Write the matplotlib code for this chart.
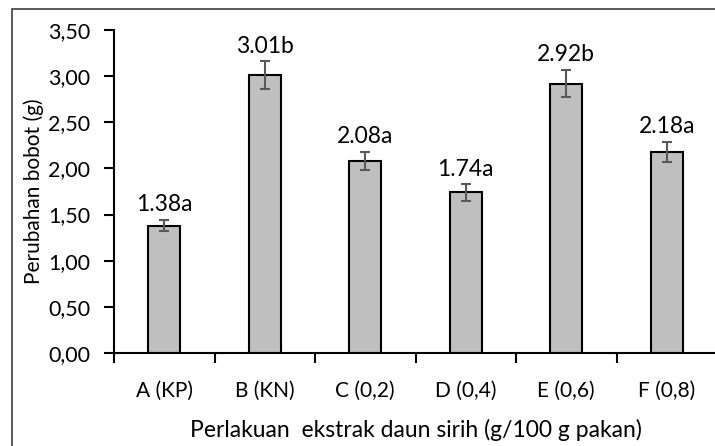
import matplotlib.pyplot as plt
from matplotlib.patches import Rectangle

# Perubahan bobot per perlakuan
perlakuan = ['A (KP)', 'B (KN)', 'C (0,2)', 'D (0,4)', 'E (0,6)', 'F (0,8)']
bobot = [1.38, 3.01, 2.08, 1.74, 2.92, 2.18]
galat = [0.06, 0.15, 0.10, 0.09, 0.15, 0.11]
notasi = ['a', 'b', 'a', 'a', 'b', 'a']

plt.rcParams['font.family'] = ['Lato', 'DejaVu Sans']

fig = plt.figure(figsize=(7.15, 4.46), dpi=100)
ax = fig.add_axes([114 / 715, 1 - 353 / 446, 603 / 715, 323 / 446])

x = range(len(perlakuan))
ax.bar(x, bobot, width=0.32, color='#bfbfbf', edgecolor='black', linewidth=1.5, zorder=2)
ax.errorbar(x, bobot, yerr=galat, fmt='none', ecolor='#595959', elinewidth=1.5,
            capsize=3.6, capthick=1.5, zorder=3)

for i, (v, e, n) in enumerate(zip(bobot, galat, notasi)):
    ax.text(i, v + e + 0.05, f'{v:.2f}{n}', ha='center', va='bottom', fontsize=16.5)

ax.set_xlim(-0.5, len(perlakuan) - 0.5)
ax.set_ylim(0, 3.5)
ax.set_yticks([i * 0.5 for i in range(8)])
ax.set_yticklabels([f'{i * 0.5:.2f}'.replace('.', ',') for i in range(8)], fontsize=15.5)

# tanda sumbu x di batas kategori
ax.set_xticks([i - 0.5 for i in range(len(perlakuan) + 1)])
ax.set_xticklabels([])
ax.set_xticks(list(x), minor=True)
ax.set_xticklabels(perlakuan, minor=True, fontsize=15)
ax.tick_params(axis='x', which='major', direction='out', length=7, width=1.5)
ax.tick_params(axis='x', which='minor', length=0, pad=20)
ax.tick_params(axis='y', direction='out', length=7, width=1.5, pad=10)

for side in ['top', 'right']:
    ax.spines[side].set_visible(False)
for side in ['left', 'bottom']:
    ax.spines[side].set_linewidth(1.5)

ax.set_ylabel('Perubahan bobot (g)', fontsize=15, labelpad=3)
ax.set_xlabel('Perlakuan  ekstrak daun sirih (g/100 g pakan)', fontsize=16.5, labelpad=13)

fig.patches.append(Rectangle((12 / 715, -0.1), 1.2, 1.1 - 9 / 446, transform=fig.transFigure,
                             fill=False, edgecolor='#404040', linewidth=1.2))

fig.savefig('out.png', dpi=100)
